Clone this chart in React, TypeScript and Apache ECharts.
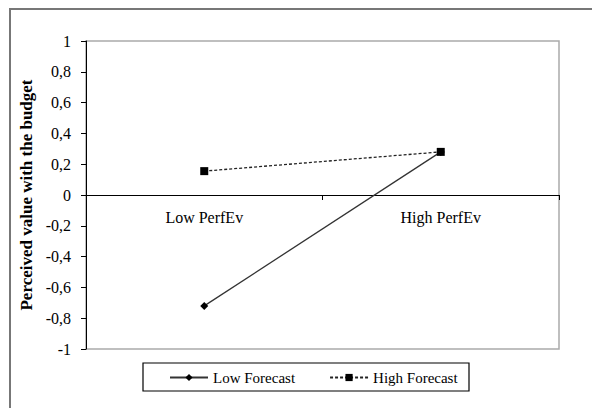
import React, { useEffect, useRef } from "react";
import * as echarts from "echarts";

const categories = ["Low PerfEv", "High PerfEv"];
const lowForecast = [-0.72, 0.28];
const highForecast = [0.155, 0.28];
const seriesNames = ["Low Forecast", "High Forecast"];
const yAxisTitle = "Perceived value with the budget";

const FONT = "Liberation Serif";

export default function App() {
  const ref = useRef<HTMLDivElement>(null);
  useEffect(() => {
    if (!ref.current) return;
    const chart = echarts.init(ref.current, undefined, { renderer: "svg" });
    chart.setOption({
      animation: false,
      backgroundColor: "#fff",
      textStyle: { fontFamily: FONT, color: "#000" },
      graphic: [
        {
          type: "rect",
          shape: { x: 10, y: 9, width: 620, height: 440 },
          style: { fill: "none", stroke: "#777", lineWidth: 2 },
          silent: true,
          z: 0,
        },
        {
          type: "rect",
          shape: { x: 143, y: 363, width: 326, height: 28 },
          style: { fill: "#fff", stroke: "#000", lineWidth: 1.2 },
          silent: true,
          z: 0,
        },
      ],
      grid: {
        left: 86,
        top: 41,
        right: 33,
        bottom: 59,
        show: true,
        borderColor: "#aaa",
        borderWidth: 1.5,
        containLabel: false,
      },
      legend: {
        data: seriesNames,
        left: 169,
        top: 370,
        padding: 0,
        itemWidth: 38,
        itemHeight: 9,
        itemGap: 34,
        textStyle: { fontFamily: FONT, fontSize: 15, color: "#000" },
        z: 5,
      },
      xAxis: {
        type: "category",
        data: categories,
        boundaryGap: true,
        axisLine: { onZero: true, lineStyle: { color: "#000", width: 1 } },
        axisTick: { show: true, length: 5, lineStyle: { color: "#000" } },
        axisLabel: { fontFamily: FONT, fontSize: 16, color: "#000", margin: -140 },
        splitLine: { show: false },
      },
      yAxis: {
        type: "value",
        min: -1,
        max: 1,
        interval: 0.2,
        name: yAxisTitle,
        nameLocation: "middle",
        nameGap: 50,
        nameTextStyle: { fontFamily: FONT, fontSize: 17, fontWeight: "bold", color: "#000" },
        axisLine: { show: true, lineStyle: { color: "#000", width: 1 } },
        axisTick: { show: true, length: 5, lineStyle: { color: "#000" } },
        axisLabel: {
          fontFamily: FONT,
          fontSize: 16,
          color: "#000",
          margin: 15,
          formatter: (v: number) => {
            const r = Math.round(v * 10) / 10;
            return String(r).replace(".", ",");
          },
        },
        splitLine: { show: false },
      },
      series: [
        {
          name: seriesNames[0],
          type: "line",
          data: lowForecast,
          symbol: "diamond",
          symbolSize: 8,
          itemStyle: { color: "#000" },
          lineStyle: { color: "#333", width: 1.3, type: "solid" },
          z: 3,
        },
        {
          name: seriesNames[1],
          type: "line",
          data: highForecast,
          symbol: "rect",
          symbolSize: 8,
          itemStyle: { color: "#000" },
          lineStyle: { color: "#222", width: 1.3, type: [3, 2] },
          z: 3,
        },
      ],
    });
    return () => chart.dispose();
  }, []);
  return (
    <div
      ref={ref}
      style={{ position: "fixed", left: 0, top: 0, width: 592, height: 408 }}
    />
  );
}
